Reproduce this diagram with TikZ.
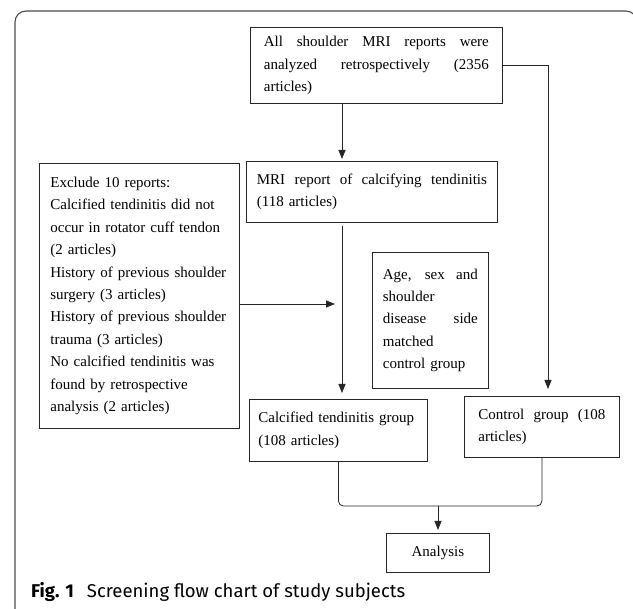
\documentclass[tikz,border=0pt]{standalone}
\usepackage{fontspec}
\setmainfont{Liberation Serif}
\newfontfamily\capfont{Fira Sans}
\usetikzlibrary{arrows.meta}
\newcommand\jline[2]{\makebox[#1][s]{\spaceskip=0.25em plus 1fil\relax #2}}
\begin{document}
\begin{tikzpicture}[x=1pt,y=-1pt,
  box/.style={draw=black!85, line width=0.8pt, rectangle, anchor=north west, inner sep=0pt,
    font=\fontsize{15}{22.4}\selectfont, align=left},
  arr/.style={draw=black!85, line width=0.8pt, -{Triangle[length=9pt,width=7pt]}},
  ln/.style={draw=black!85, line width=0.8pt}]
\useasboundingbox (0,0) rectangle (633,609);
\fill[white] (0,0) rectangle (633,609);
% outer frame
\draw[black!70, line width=1.1pt, rounded corners=11pt] (15,612) -- (15,11) -- (637,11) -- (637,612);
% boxes
\node[box, minimum width=252pt, minimum height=76pt, text width=225pt] (b1) at (250,27)
  {\jline{225pt}{All shoulder MRI reports were}\\\jline{225pt}{analyzed retrospectively (2356}\\articles)};
\node[box, minimum width=251pt, minimum height=61pt, text width=230pt] (mri) at (246,161)
  {\jline{230pt}{MRI report of calcifying tendinitis}\\(118 articles)};
\node[box, minimum width=200pt, minimum height=265pt, text width=178pt] (excl) at (39,163)
  {Exclude 10 reports:\\Calcified tendinitis did not\\occur in rotator cuff tendon\\(2 articles)\\History of previous shoulder\\surgery (3 articles)\\History of previous shoulder\\trauma (3 articles)\\No calcified tendinitis was\\found by retrospective\\analysis (2 articles)};
\node[box, minimum width=116pt, minimum height=136pt, text width=95pt] (age) at (372,252)
  {\jline{95pt}{Age, sex and}\\shoulder\\\jline{95pt}{disease side}\\matched\\control group};
\node[box, minimum width=178pt, minimum height=62pt, text width=160pt] (cal) at (249,399)
  {Calcified tendinitis group\\(108 articles)};
\node[box, minimum width=155pt, minimum height=61pt, text width=127pt] (ctl) at (464,396)
  {\jline{127pt}{Control group (108}\\articles)};
\node[box, minimum width=103pt, minimum height=39pt, align=center] (ana) at (386,533) {Analysis};
% caption
\node[anchor=base west, inner sep=0pt, font=\capfont\fontsize{18.5}{20}\selectfont] (cap) at (31,598)
  {\textbf{Fig. 1}\hspace{13pt}Screening flow chart of study subjects};
% connectors
\coordinate (vx) at (342,0);
\coordinate (rx) at (548,0);
\coordinate (xa) at (335,304);
\coordinate (m) at (438,506);
\draw[arr, shorten >=2pt] (b1.south -| vx) -- (mri.north -| vx);
\draw[arr, shorten >=7pt] (b1.east) -| (ctl.north -| rx);
\draw[arr, shorten <=3pt, shorten >=6pt] (mri.south -| vx) -- (cal.north -| vx);
\draw[arr] (excl.east |- xa) -- (xa);
\draw[ln, rounded corners=5pt] (cal.south) |- (m) -| (ctl.south);
\draw[arr, shorten >=3pt] (m) -- (ana.north -| m);
\end{tikzpicture}
\end{document}
